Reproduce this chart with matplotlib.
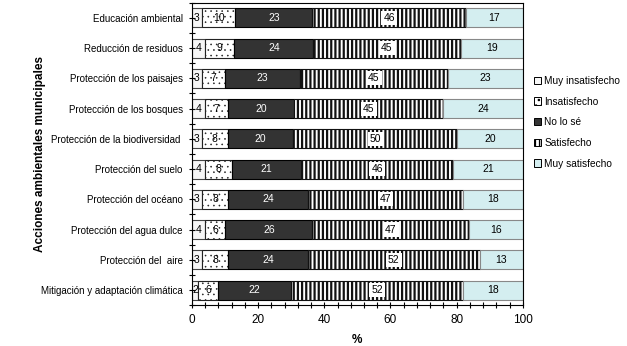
import matplotlib
matplotlib.use("Agg")
import matplotlib.pyplot as plt
from matplotlib.patches import Patch
from matplotlib.ticker import MultipleLocator
import numpy as np

plt.rcParams["font.family"] = ["Liberation Sans", "DejaVu Sans"]

acciones = [
    "Educación ambiental",
    "Reducción de residuos",
    "Protección de los paisajes",
    "Protección de los bosques",
    "Protección de la biodiversidad ",
    "Protección del suelo",
    "Protección del océano",
    "Protección del agua dulce",
    "Protección del  aire",
    "Mitigación y adaptación climática",
]
niveles = ["Muy insatisfecho", "Insatisfecho", "No lo sé", "Satisfecho", "Muy satisfecho"]

muy_insatisfecho = [3, 4, 3, 4, 3, 4, 3, 4, 3, 2]
insatisfecho = [10, 9, 7, 7, 8, 8, 8, 6, 8, 6]
no_lo_se = [23, 24, 23, 20, 20, 21, 24, 26, 24, 22]
satisfecho = [46, 45, 45, 45, 50, 46, 47, 47, 52, 52]
muy_satisfecho = [17, 19, 23, 24, 20, 21, 18, 16, 13, 18]

colores = ["#f6f6f6", "white", "#333333", "white", "#d4eef0"]
tramas = [None, "...", None, "||||", None]
grosor_trama = [0.8, 0.4, 0.8, 1.6, 0.8]
bordes = ["#444444", "#222222", "black", "#111111", "#888888"]


def main():
    valores = np.array([muy_insatisfecho, insatisfecho, no_lo_se, satisfecho, muy_satisfecho], dtype=float)
    # bars are drawn as 100% stacked
    pct = valores / valores.sum(axis=0) * 100
    y = np.arange(len(acciones))

    fig = plt.figure(figsize=(6.27, 3.46), dpi=100)
    ax = fig.add_axes([0.306, 0.118, 0.528, 0.874])

    left = np.zeros(len(acciones))
    for i, nivel in enumerate(niveles):
        with plt.rc_context({"hatch.linewidth": grosor_trama[i]}):
            ax.barh(y, pct[i], left=left, height=0.63, color=colores[i], edgecolor=bordes[i],
                    hatch=tramas[i], linewidth=0.8, label=nivel)
        for j in range(len(acciones)):
            xc = left[j] + pct[i, j] / 2
            txt = str(int(valores[i, j]))
            if i == 2:
                ax.text(xc, y[j], txt, ha="center", va="center", fontsize=7.5, color="white")
            elif i == 3:
                ax.text(xc, y[j], txt, ha="center", va="center", fontsize=7.5,
                        bbox=dict(facecolor="white", edgecolor="none", pad=1.5))
            else:
                ax.text(xc, y[j], txt, ha="center", va="center", fontsize=7.5)
        left += pct[i]

    ax.set_xlim(0, 100)
    ax.set_ylim(len(acciones) - 0.5, -0.5)
    ax.set_xticks([0, 20, 40, 60, 80, 100])
    ax.xaxis.set_minor_locator(MultipleLocator(4))
    ax.set_yticks(y)
    ax.set_yticklabels(acciones)
    ax.set_yticks(np.arange(-0.5, len(acciones), 1), minor=True)
    ax.tick_params(axis="both", which="both", direction="inout", length=5, width=0.8)
    ax.tick_params(axis="y", which="major", labelsize=7, pad=4)
    ax.tick_params(axis="x", which="major", labelsize=8.5)
    for s in ax.spines.values():
        s.set_linewidth(0.8)

    ax.set_xlabel("%", fontsize=8.5, fontweight="bold", labelpad=6)
    ax.set_ylabel("Acciones ambientales municipales", fontsize=8.5, fontweight="bold")
    ax.yaxis.set_label_coords(-0.44, 0.5)

    handles = []
    for i in range(len(niveles)):
        with plt.rc_context({"hatch.linewidth": 0.5}):
            handles.append(Patch(facecolor=colores[i], edgecolor="black", hatch=tramas[i], linewidth=0.7))
    fig.legend(handles, niveles, loc="upper left", bbox_to_anchor=(0.843, 0.795), frameon=False,
               fontsize=7.3, handlelength=0.75, handleheight=0.75, handletextpad=0.3,
               labelspacing=1.05, borderpad=0)

    fig.savefig("out.png", dpi=100)
    plt.close(fig)


if __name__ == "__main__":
    main()
